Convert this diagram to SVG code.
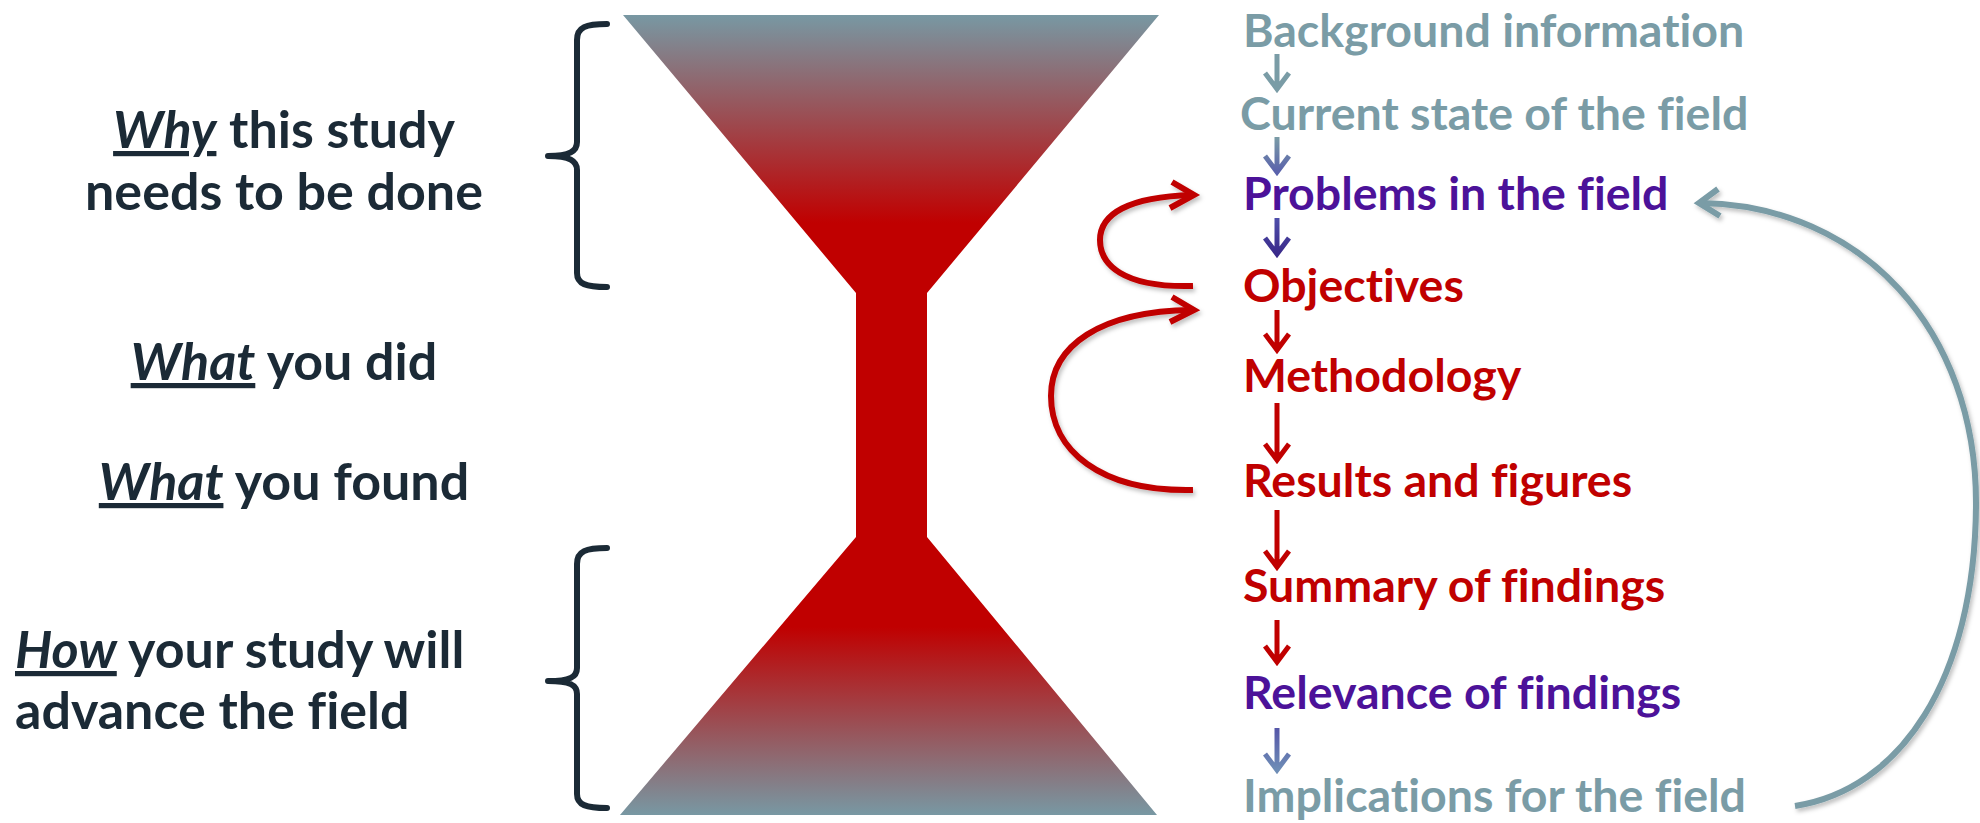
<svg xmlns="http://www.w3.org/2000/svg" width="1980" height="823" viewBox="0 0 1980 823">
<defs>
  <linearGradient id="hg" gradientUnits="userSpaceOnUse" x1="0" y1="15" x2="0" y2="815">
    <stop offset="0" stop-color="#7898A3"/>
    <stop offset="0.26" stop-color="#C00000"/>
    <stop offset="0.765" stop-color="#C00000"/>
    <stop offset="1" stop-color="#7898A3"/>
  </linearGradient>
  <linearGradient id="g2" x1="0" y1="0" x2="0" y2="1">
    <stop offset="0" stop-color="#7A9CA6"/>
    <stop offset="1" stop-color="#5A62AC"/>
  </linearGradient>
  <linearGradient id="g3" x1="0" y1="0" x2="0" y2="1">
    <stop offset="0" stop-color="#4E4EAA"/>
    <stop offset="1" stop-color="#3A2A8A"/>
  </linearGradient>
  <linearGradient id="g8" x1="0" y1="0" x2="0" y2="1">
    <stop offset="0" stop-color="#5556A8"/>
    <stop offset="1" stop-color="#6E8DB6"/>
  </linearGradient>
  <filter id="sh" x="-10%" y="-10%" width="130%" height="130%">
    <feDropShadow dx="2" dy="3" stdDeviation="2" flood-color="#000" flood-opacity="0.25"/>
  </filter>
  <style>
    text { font-variant-ligatures: none; }
    .lt { font-family: Lato, "Open Sans", "Liberation Sans", sans-serif; font-weight: 700; font-size: 52px; fill: #1B2A36; }
    .lt .em { font-style: italic; text-decoration: underline; text-decoration-thickness: 2px; text-decoration-color: #6A7884; }
    .rt { font-family: Lato, "Open Sans", "Liberation Sans", sans-serif; font-weight: 700; font-size: 46.5px; }
    .gray { fill: #7A9CA6; }
    .purp { fill: #4C1299; }
    .red { fill: #C00000; }
    .br { fill: none; stroke: #1B2A36; stroke-width: 6; stroke-linecap: round; stroke-linejoin: round; }
    .sa { fill: none; stroke-width: 5; stroke-linejoin: miter; }
    .ca { fill: none; stroke-width: 6; stroke-linecap: butt; stroke-linejoin: miter; }
  </style>
</defs>
<rect width="1980" height="823" fill="#FFFFFF"/>

<g id="hourglass">
  <path d="M623,15 L1159,15 L927,293 L927,537 L1157,815 L620,815 L856,537 L856,293 Z" fill="url(#hg)"/>
</g>

<g id="brackets">
  <path class="br" d="M607,24 C586,24 577,27 577,40 L577,142 C577,151 570,156 548,156 C570,156 577,161 577,170 L577,273 C577,284 586,287 607,287"/>
  <path class="br" d="M607,548 C586,548 577,551 577,564 L577,668 C577,677 570,681 548,681 C570,681 577,685 577,694 L577,794 C577,805 586,808 607,808"/>
</g>

<g id="left-labels">
  <g id="why"><text class="lt" x="284" y="148" text-anchor="middle"><tspan class="em">Why</tspan> this study</text>
  <text class="lt" x="284" y="210" text-anchor="middle">needs to be done</text></g>
  <g id="what-did"><text class="lt" x="284" y="380" text-anchor="middle"><tspan class="em">What</tspan> you did</text></g>
  <g id="what-found"><text class="lt" x="284" y="500" text-anchor="middle"><tspan class="em">What</tspan> you found</text></g>
  <g id="how"><text class="lt" x="15" y="668"><tspan class="em">How</tspan> your study will</text>
  <text class="lt" x="15" y="729">advance the field</text></g>
</g>

<g id="n-background"><text class="rt gray" x="1243" y="47">Background information</text></g>
<g id="n-current"><text class="rt gray" x="1240" y="130">Current state of the field</text></g>
<g id="n-problems"><text class="rt purp" x="1243" y="210">Problems in the field</text></g>
<g id="n-objectives"><text class="rt red" x="1243" y="302">Objectives</text></g>
<g id="n-methodology"><text class="rt red" x="1243" y="392">Methodology</text></g>
<g id="n-results"><text class="rt red" x="1243" y="497">Results and figures</text></g>
<g id="n-summary"><text class="rt red" x="1243" y="602">Summary of findings</text></g>
<g id="n-relevance"><text class="rt purp" x="1243" y="709">Relevance of findings</text></g>
<g id="n-implications"><text class="rt gray" x="1243" y="812">Implications for the field</text></g>

<g id="connectors">
  <path class="sa" stroke="#7A9CA6" d="M1277,54 V89 M1265,73 L1277,89 L1289,73"/>
  <path class="sa" stroke="url(#g2)" d="M1277,137 V172 M1265,156 L1277,172 L1289,156"/>
  <path class="sa" stroke="url(#g3)" d="M1277,218 V254 M1265,238 L1277,254 L1289,238"/>
  <path class="sa" stroke="#C00000" d="M1277,310 V350 M1265,334 L1277,350 L1289,334"/>
  <path class="sa" stroke="#C00000" d="M1277,403 V460 M1265,444 L1277,460 L1289,444"/>
  <path class="sa" stroke="#C00000" d="M1277,510 V567 M1265,551 L1277,567 L1289,551"/>
  <path class="sa" stroke="#C00000" d="M1277,620 V662 M1265,646 L1277,662 L1289,646"/>
  <path class="sa" stroke="url(#g8)" d="M1277,728 V770 M1265,754 L1277,770 L1289,754"/>

  <g filter="url(#sh)">
    <path class="ca" stroke="#C00000" d="M1193,286 C1122,288 1100,264 1100,240 C1100,214 1128,197 1192,195"/>
    <path class="ca" stroke="#C00000" d="M1172,182 L1194,195 L1170,208"/>
    <path class="ca" stroke="#C00000" d="M1193,490 C1100,492 1051,450 1051,396 C1051,346 1100,311 1192,310"/>
    <path class="ca" stroke="#C00000" d="M1172,297 L1194,310 L1170,322"/>
    <path class="ca" stroke="#7A9CA6" d="M1795,806 C1900,790 1975,680 1976,505 C1977,330 1862,205 1700,203"/>
    <path class="ca" stroke="#7A9CA6" d="M1718,189 L1699,203 L1720,216"/>
  </g>
</g>
</svg>
